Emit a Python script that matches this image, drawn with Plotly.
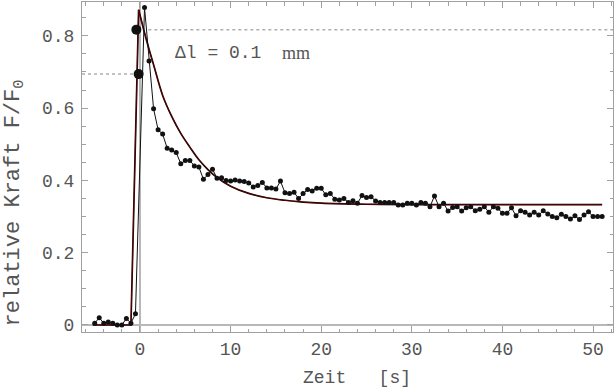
import plotly.graph_objects as go

# measured data (time in s, relative force)
t_data = [-5.0, -4.5, -4.0, -3.5, -3.0, -2.5, -2.0, -1.5, -1.0, -0.5,
          0.5, 1.0, 1.5, 2.0, 2.5, 3.0, 3.5, 4.0, 4.5, 5.0,
          5.5, 6.0, 6.5, 7.0, 7.5, 8.0, 8.5, 9.0, 9.5, 10.0,
          10.5, 11.0, 11.5, 12.0, 12.5, 13.0, 13.5, 14.0, 14.5, 15.0,
          15.5, 16.0, 16.5, 17.0, 17.5, 18.0, 18.5, 19.0, 19.5, 20.0,
          20.5, 21.0, 21.5, 22.0, 22.5, 23.0, 23.5, 24.0, 24.5, 25.0,
          25.5, 26.0, 26.5, 27.0, 27.5, 28.0, 28.5, 29.0, 29.5, 30.0,
          30.5, 31.0, 31.5, 32.0, 32.5, 33.0, 33.5, 34.0, 34.5, 35.0,
          35.5, 36.0, 36.5, 37.0, 37.5, 38.0, 38.5, 39.0, 39.5, 40.0,
          40.5, 41.0, 41.5, 42.0, 42.5, 43.0, 43.5, 44.0, 44.5, 45.0,
          45.5, 46.0, 46.5, 47.0, 47.5, 48.0, 48.5, 49.0, 49.5, 50.0,
          50.5, 51.0]
f_data = [0.005, 0.020, 0.005, 0.008, 0.005, 0.000, 0.000, 0.018, 0.005, 0.031,
          0.878, 0.730, 0.598, 0.540, 0.528, 0.489, 0.484, 0.477, 0.446, 0.455,
          0.455, 0.440, 0.437, 0.403, 0.416, 0.431, 0.406, 0.407, 0.400, 0.398,
          0.401, 0.398, 0.397, 0.393, 0.382, 0.386, 0.394, 0.379, 0.379, 0.376,
          0.398, 0.366, 0.364, 0.367, 0.350, 0.364, 0.375, 0.371, 0.378, 0.378,
          0.360, 0.364, 0.348, 0.346, 0.350, 0.339, 0.344, 0.337, 0.358, 0.353,
          0.355, 0.343, 0.339, 0.339, 0.339, 0.339, 0.332, 0.332, 0.337, 0.337,
          0.332, 0.339, 0.337, 0.327, 0.357, 0.327, 0.337, 0.315, 0.325, 0.327,
          0.315, 0.324, 0.327, 0.316, 0.320, 0.327, 0.312, 0.327, 0.323, 0.309,
          0.309, 0.324, 0.302, 0.316, 0.312, 0.304, 0.312, 0.304, 0.316, 0.307,
          0.300, 0.297, 0.306, 0.300, 0.293, 0.302, 0.292, 0.304, 0.313, 0.300,
          0.300, 0.300]

# fitted curve
fit_rise_t = [-5.2, -1.0, -0.15]
fit_rise_f = [0.0, 0.0, 0.872]
fit_decay_t = [-0.15, 0.75, 1.5, 2.5, 3.5, 4.5, 5.5, 6.5, 7.5, 8.5, 10.0,
               12.0, 14.0, 16.0, 18.0, 20.0, 25.0, 30.0, 40.0, 51.0]
fit_decay_f = [0.872, 0.785, 0.720, 0.635, 0.577, 0.530, 0.492, 0.457, 0.430,
               0.408, 0.384, 0.364, 0.352, 0.345, 0.340, 0.337, 0.334, 0.333,
               0.333, 0.333]

# highlighted points and reference levels
mark_t = [-0.4, -0.15]
mark_f = [0.817, 0.694]
upper_level_t = [0.92, 52.2]
upper_level_f = [0.817, 0.817]
lower_level_t = [-6.4, -0.55]
lower_level_f = [0.694, 0.694]

x_ticks = [0, 10, 20, 30, 40, 50]
y_ticks = [0, 0.2, 0.4, 0.6, 0.8]
y_ticktext = ["0", "0.2", "0.4", "0.6", "0.8"]

MONO = "Liberation Mono"
TXT = "#555555"
FRAME = "#a0a0a0"

fig = go.Figure()

for tt, ff in [(upper_level_t, upper_level_f), (lower_level_t, lower_level_f)]:
    fig.add_trace(go.Scatter(x=tt, y=ff, mode="lines",
                             line=dict(color="#b0b0b0", width=1.5, dash="dot"),
                             hoverinfo="skip", showlegend=False))

# fit: dark line with thin red core
for col, w in [("#120000", 1.7), ("#a00000", 0.5)]:
    fig.add_trace(go.Scatter(x=fit_rise_t, y=fit_rise_f, mode="lines",
                             line=dict(color=col, width=w), showlegend=False))
    fig.add_trace(go.Scatter(x=fit_decay_t, y=fit_decay_f, mode="lines",
                             line=dict(color=col, width=w, shape="spline", smoothing=1.0),
                             showlegend=False))

fig.add_trace(go.Scatter(x=t_data, y=f_data, mode="lines+markers",
                         line=dict(color="#111111", width=1),
                         marker=dict(color="#111111", size=5),
                         showlegend=False))

fig.add_trace(go.Scatter(x=mark_t, y=mark_f, mode="markers",
                         marker=dict(color="#111111", size=10),
                         showlegend=False))

axis_common = dict(
    showline=True, linecolor=FRAME, linewidth=1, mirror="ticks",
    ticks="inside", ticklen=6, tickcolor=FRAME, tickwidth=1,
    showgrid=False, zeroline=True, zerolinecolor="#b8b8b8", zerolinewidth=2,
    tickfont=dict(family=MONO, size=18, color=TXT),
)

fig.update_layout(
    width=616, height=388,
    margin=dict(l=82, r=3, t=2, b=56),
    paper_bgcolor="white", plot_bgcolor="white",
    xaxis=dict(range=[-6.4, 52.2], tickvals=x_ticks,
               minor=dict(dtick=2, tick0=0, ticks="inside", ticklen=3.5,
                          tickcolor=FRAME, showgrid=False),
               **axis_common),
    yaxis=dict(range=[-0.0194, 0.8935], tickvals=y_ticks, ticktext=y_ticktext,
               ticklabelstandoff=3,
               minor=dict(dtick=0.05, tick0=0, ticks="inside", ticklen=3.5,
                          tickcolor=FRAME, showgrid=False),
               **axis_common),
    annotations=[
        dict(x=3.64, y=0.752, xref="x", yref="y", xanchor="left", yanchor="middle",
             text="\u0394l = 0.1", showarrow=False,
             font=dict(family=MONO, size=18, color=TXT)),
        dict(x=15.4, y=0.752, xref="x", yref="y", xanchor="left", yanchor="middle",
             text="mm", showarrow=False,
             font=dict(family="Liberation Serif", size=18, color=TXT)),
        dict(x=0.518, y=-0.139, xref="paper", yref="paper", xanchor="center",
             yanchor="middle", text="Zeit\u00a0\u00a0\u00a0[s]", showarrow=False,
             font=dict(family=MONO, size=18, color=TXT)),
        dict(x=-0.126, y=0.39, xref="paper", yref="paper", xanchor="center",
             yanchor="middle", textangle=-90, text="relative Kraft F/F<sub>0</sub>",
             showarrow=False, font=dict(family=MONO, size=22, color=TXT)),
    ],
)

fig.write_html("out.html")
